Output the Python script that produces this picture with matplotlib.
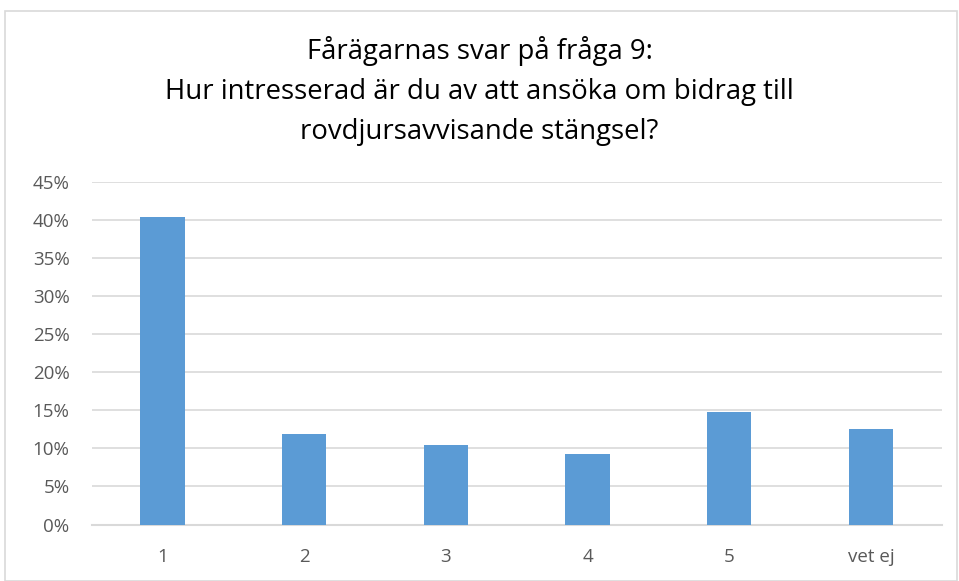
import matplotlib
matplotlib.use("Agg")
import matplotlib.pyplot as plt
from matplotlib.patches import Rectangle
from matplotlib.ticker import FuncFormatter, MultipleLocator

categories = ["1", "2", "3", "4", "5", "vet ej"]
values = [40.4, 11.9, 10.4, 9.2, 14.8, 12.6]
title = "Fårägarnas svar på fråga 9:\nHur intresserad är du av att ansöka om bidrag till\nrovdjursavvisande stängsel?"

plt.rcParams['font.family'] = ['Open Sans', 'DejaVu Sans']

fig = plt.figure(figsize=(9.59, 5.81), dpi=100)
fig.patches.append(Rectangle((5/959, 0.0), (957-5)/959, 1 - 11/581, transform=fig.transFigure,
                             fill=False, edgecolor='#d9d9d9', linewidth=1.2))
ax = fig.add_axes([91.7/959, 1 - 524.5/581, 850/959, (524.5 - 181.7)/581])

x = range(len(categories))
ax.bar(x, values, width=0.314, color='#5b9bd5', zorder=3)
ax.set_xlim(-0.5, len(categories) - 0.5)
ax.set_ylim(0, 45)
ax.yaxis.set_major_locator(MultipleLocator(5))
ax.yaxis.set_major_formatter(FuncFormatter(lambda v, p: f"{v:.0f}%"))
ax.set_xticks(list(x))
ax.set_xticklabels(categories)
ax.grid(axis='y', color='#d9d9d9', linewidth=1.2, zorder=0)
for s in ['top', 'right', 'left']:
    ax.spines[s].set_visible(False)
ax.spines['bottom'].set_color('#d9d9d9')
ax.spines['bottom'].set_linewidth(1.5)
ax.tick_params(axis='both', length=0, labelsize=13.5, colors='#595959')
ax.tick_params(axis='x', pad=17)
ax.tick_params(axis='y', pad=16)

fig.text(0.5, 1 - 91/581, title, ha='center', va='center', fontsize=19.8,
         color='#000000', linespacing=1.55)

fig.savefig("out.png", dpi=100)
